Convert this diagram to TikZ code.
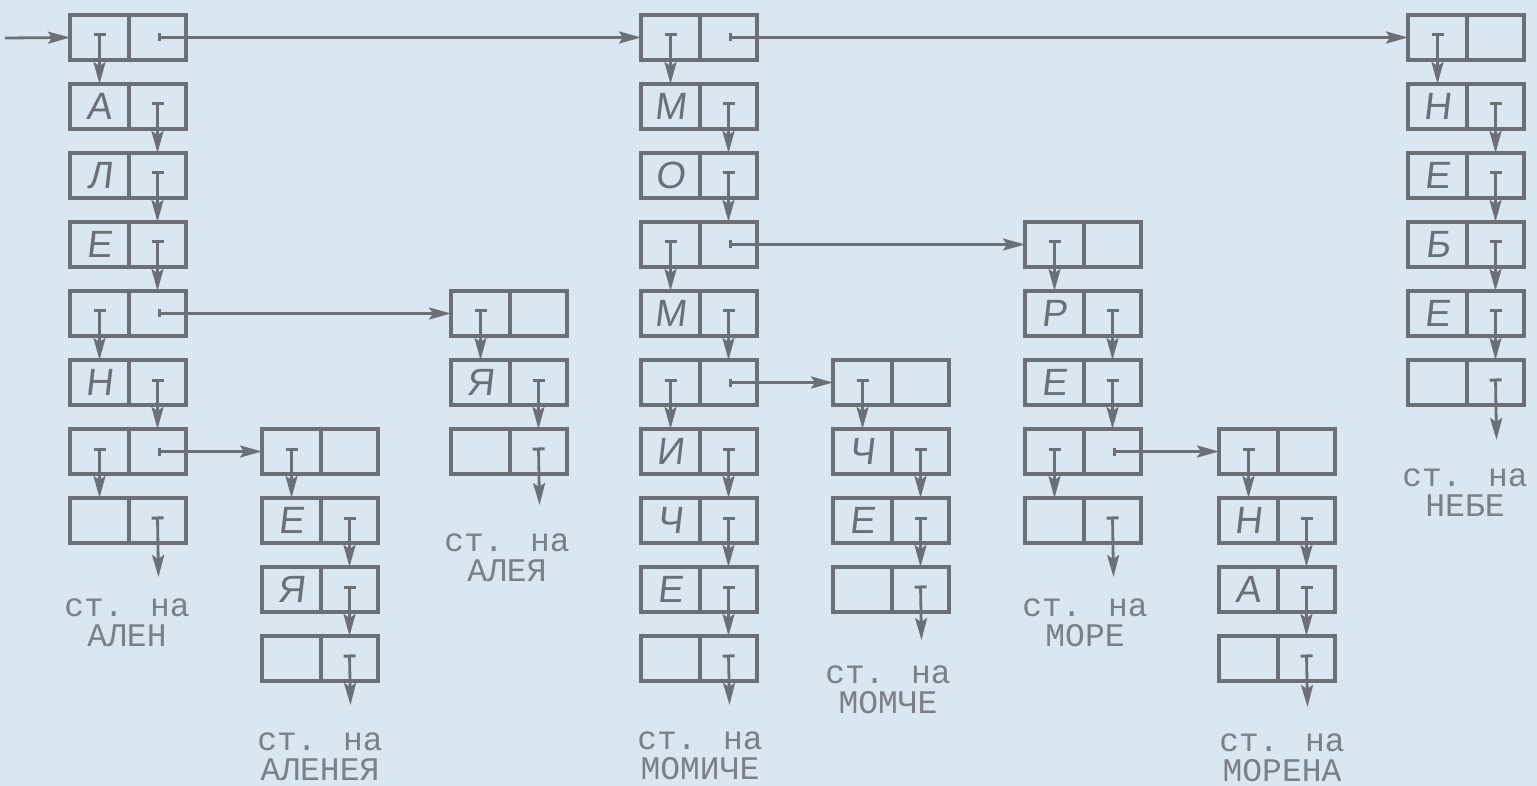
\documentclass[tikz,border=0pt]{standalone}
\usepackage{fontspec}
\newfontfamily\hand[FakeSlant=0.12]{Liberation Sans}
\newfontfamily\typew{Liberation Mono}
\usetikzlibrary{arrows.meta}
\definecolor{paper}{HTML}{DAE7F0}
\definecolor{ink}{HTML}{6A7076}
\definecolor{tink}{HTML}{7A8085}
\tikzset{
  lcell/.style={draw=ink, line width=1.6pt, minimum width=29.5pt, minimum height=22.5pt,
    inner sep=0pt, outer sep=0pt, anchor=north west, text=ink,
    font=\hand\fontsize{19}{19}\selectfont},
  rcell/.style={lcell, minimum width=28.5pt},
  vp/.style={draw=ink, line width=1.4pt,
    {Bar[width=6pt,line width=1.5pt]}-{Stealth[length=11pt,width=6pt,inset=2pt]}},
  hp/.style={draw=ink, line width=1.4pt,
    {Bar[width=4pt,line width=1.8pt]}-{Stealth[length=11pt,width=6pt,inset=2pt]}},
  inarrow/.style={draw=ink, line width=1.4pt, -{Stealth[length=11pt,width=6pt,inset=2pt]}},
  lbl/.style={font=\typew\fontsize{16.5}{15}\selectfont, text=tink, align=center, inner sep=0pt},
}
\newcommand\bx[4]{\node[lcell] (#1l) at (#2,#3) {#4};
  \node[rcell] (#1r) at (#1l.north east) {};}
\newcommand\vl[2]{\draw[vp] ([yshift=2pt]#1l.center) -- (#2l.north);}
\newcommand\vr[2]{\draw[vp] ([yshift=2pt]#1r.center) -- (#2r.north);}
\newcommand\hpp[2]{\draw[hp] (#1r.center) -- (#2l.west);}
\newcommand\fr[2]{\draw[vp] ([yshift=2pt]#1r.center) -- (#2);}
\begin{document}
\begin{tikzpicture}[x=0.5pt,y=-0.5pt]
\fill[paper] (0,0) rectangle (1537,786);
\useasboundingbox (0,0) rectangle (1537,786);
% column A
\bx{a0}{70}{15}{}
\bx{a1}{70}{84}{А}
\bx{a2}{70}{153}{Л}
\bx{a3}{70}{222}{Е}
\bx{a4}{70}{291}{}
\bx{a5}{70}{360}{Н}
\bx{a6}{70}{429}{}
\bx{a7}{70}{498}{}
% column B (АЛЕНЕЯ)
\bx{b0}{262}{429}{}
\bx{b1}{262}{498}{Е}
\bx{b2}{262}{567}{Я}
\bx{b3}{262}{636}{}
% column C (АЛЕЯ)
\bx{c0}{451}{291}{}
\bx{c1}{451}{360}{Я}
\bx{c2}{451}{429}{}
% column M
\bx{m0}{641}{15}{}
\bx{m1}{641}{84}{М}
\bx{m2}{641}{153}{О}
\bx{m3}{641}{222}{}
\bx{m4}{641}{291}{М}
\bx{m5}{641}{360}{}
\bx{m6}{641}{429}{И}
\bx{m7}{641}{498}{Ч}
\bx{m8}{641}{567}{Е}
\bx{m9}{641}{636}{}
% column D (МОМЧЕ)
\bx{d0}{833}{360}{}
\bx{d1}{833}{429}{Ч}
\bx{d2}{833}{498}{Е}
\bx{d3}{833}{567}{}
% column E (МОРЕ)
\bx{e0}{1025}{222}{}
\bx{e1}{1025}{291}{Р}
\bx{e2}{1025}{360}{Е}
\bx{e3}{1025}{429}{}
\bx{e4}{1025}{498}{}
% column F (МОРЕНА)
\bx{f0}{1219}{429}{}
\bx{f1}{1219}{498}{Н}
\bx{f2}{1219}{567}{А}
\bx{f3}{1219}{636}{}
% column G (НЕБЕ)
\bx{g0}{1408}{15}{}
\bx{g1}{1408}{84}{Н}
\bx{g2}{1408}{153}{Е}
\bx{g3}{1408}{222}{Б}
\bx{g4}{1408}{291}{Е}
\bx{g5}{1408}{360}{}
% free ends
\coordinate (start) at (5,38);
\coordinate (ea) at (158.5,577);
\coordinate (eb) at (350.5,705);
\coordinate (ec) at (539.5,505);
\coordinate (em) at (729.5,705);
\coordinate (ed) at (921.5,640);
\coordinate (ee) at (1113.5,577);
\coordinate (ef) at (1307.5,707);
\coordinate (eg) at (1496.5,440);
% entry
\draw[inarrow] (start) -- (a0l.west);
% column A links
\vl{a0}{a1} \vr{a1}{a2} \vr{a2}{a3} \vr{a3}{a4} \vl{a4}{a5} \vr{a5}{a6} \vl{a6}{a7} \fr{a7}{ea}
\hpp{a0}{m0} \hpp{a4}{c0} \hpp{a6}{b0}
% column B
\vl{b0}{b1} \vr{b1}{b2} \vr{b2}{b3} \fr{b3}{eb}
% column C
\vl{c0}{c1} \vr{c1}{c2} \fr{c2}{ec}
% column M
\vl{m0}{m1} \vr{m1}{m2} \vr{m2}{m3} \vl{m3}{m4} \vr{m4}{m5} \vl{m5}{m6}
\vr{m6}{m7} \vr{m7}{m8} \vr{m8}{m9} \fr{m9}{em}
\hpp{m0}{g0} \hpp{m3}{e0} \hpp{m5}{d0}
% column D
\vl{d0}{d1} \vr{d1}{d2} \vr{d2}{d3} \fr{d3}{ed}
% column E
\vl{e0}{e1} \vr{e1}{e2} \vr{e2}{e3} \vl{e3}{e4} \fr{e4}{ee}
\hpp{e3}{f0}
% column F
\vl{f0}{f1} \vr{f1}{f2} \vr{f2}{f3} \fr{f3}{ef}
% column G
\vl{g0}{g1} \vr{g1}{g2} \vr{g2}{g3} \vr{g3}{g4} \vr{g4}{g5} \fr{g5}{eg}
% labels
\node[lbl] (la) at (127,623) {ст. на\\АЛЕН};
\node[lbl] (lb) at (320,757) {ст. на\\АЛЕНЕЯ};
\node[lbl] (lc) at (507,558) {ст. на\\АЛЕЯ};
\node[lbl] (lm) at (700,756) {ст. на\\МОМИЧЕ};
\node[lbl] (ld) at (888,690) {ст. на\\МОМЧЕ};
\node[lbl] (le) at (1085,623) {ст. на\\МОРЕ};
\node[lbl] (lf) at (1282,758) {ст. на\\МОРЕНА};
\node[lbl] (lg) at (1465,493) {ст. на\\НЕБЕ};
\end{tikzpicture}
\end{document}
